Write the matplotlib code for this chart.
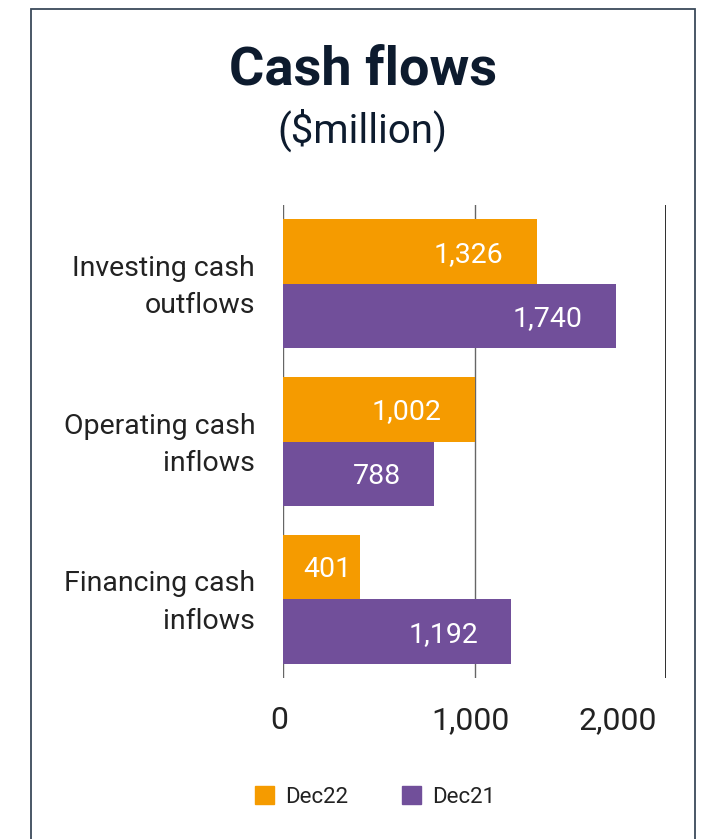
import numpy as np
import matplotlib.pyplot as plt
from matplotlib.patches import Rectangle, Patch
import matplotlib.transforms as mtransforms

plt.rcParams['font.family'] = ['Roboto', 'DejaVu Sans']

categories = ["Investing cash\noutflows", "Operating cash\ninflows", "Financing cash\ninflows"]
dec22 = [1326, 1002, 401]
dec21 = [1740, 788, 1192]
series_names = ["Dec22", "Dec21"]
xticks = [0, 1000, 2000]
xtick_labels = ["0", "1,000", "2,000"]

orange = "#F59B00"
purple = "#714F9A"
navy = "#0D1B2E"
textc = "#222222"

fig = plt.figure(figsize=(7.06, 8.39), dpi=100)
W, H = 706, 839

# frame around the chart (open at bottom)
fig.patches.append(Rectangle((31 / W, -0.01), (695 - 31) / W, 1.01 - 9 / H,
                             transform=fig.transFigure, fill=False,
                             edgecolor="#3B4A5A", lw=1.3))

fig.text(363 / W, 1 - 70 / H, "Cash flows", ha="center", va="center",
         fontsize=39, fontweight="bold", color=navy)
fig.text(362 / W, 1 - 130 / H, "($million)", ha="center", va="center",
         fontsize=29, color=navy)

ax = fig.add_axes([283 / W, 1 - 678 / H, (666 - 283) / W, (678 - 205) / H])

y = np.arange(len(categories))
h = 0.41
b1 = ax.barh(y - h / 2, dec22, height=h, color=orange)
b2 = ax.barh(y + h / 2, dec21, height=h, color=purple)

for bars, vals in [(b1, dec22), (b2, dec21)]:
    for bar, v in zip(bars, vals):
        off = -24 if v > 600 else -6
        ax.annotate(f"{v:,}", (v, bar.get_y() + bar.get_height() / 2),
                    xytext=(off, -2), textcoords="offset points",
                    ha="right", va="center", color="white", fontsize=20.5)

ax.set_xlim(0, 2000)
ax.set_ylim(len(categories) - 0.5, -0.5)
ax.set_yticks(y)
ax.set_yticklabels(categories, fontsize=20.5, color=textc, linespacing=1.5)
ax.tick_params(axis="y", length=0, pad=20)
for lab in ax.get_yticklabels():
    lab.set_transform(lab.get_transform() + mtransforms.ScaledTranslation(0, 5 / 100, fig.dpi_scale_trans))
ax.set_xticks(xticks)
ax.set_xticklabels(xtick_labels, fontsize=23, color=textc)
ax.tick_params(axis="x", length=0, pad=20)
for lab in ax.get_xticklabels():
    lab.set_transform(lab.get_transform() + mtransforms.ScaledTranslation(-4 / 100, 0, fig.dpi_scale_trans))
last = ax.get_xticklabels()[-1]
last.set_ha("right")
last.set_transform(last.get_transform() + mtransforms.ScaledTranslation(-5 / 100, 0, fig.dpi_scale_trans))

for s in ax.spines.values():
    s.set_visible(False)
ax.grid(axis="x", color="#666666", lw=1)
ax.set_axisbelow(True)
ax.axvline(2000, color="#111111", lw=1.2)

handles = [Patch(color=orange), Patch(color=purple)]
fig.legend(handles, series_names, loc="center", bbox_to_anchor=(375 / W, 1 - 797 / H),
           ncol=2, frameon=False, fontsize=16, handlelength=0.85, handleheight=0.85,
           columnspacing=2.4, handletextpad=0.5, labelcolor=textc)

fig.savefig("out.png", dpi=100)
